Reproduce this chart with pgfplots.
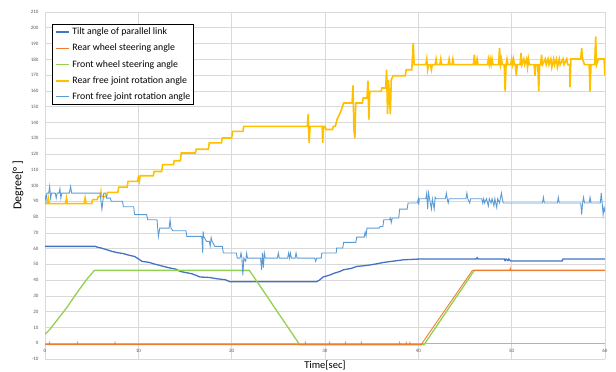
\documentclass[border=0pt]{standalone}
\usepackage{fontspec}
\setmainfont{Carlito}
\usepackage{pgfplots}
\pgfplotsset{compat=1.18}
\definecolor{tiltc}{HTML}{4472C4}
\definecolor{rearc}{HTML}{ED7D31}
\definecolor{frontc}{HTML}{92D050}
\definecolor{goldc}{HTML}{FFC000}
\definecolor{lbluec}{HTML}{5B9BD5}
\definecolor{gridc}{HTML}{D9D9D9}
\definecolor{tickc}{HTML}{595959}
\begin{document}
\begin{tikzpicture}
\useasboundingbox (0,0) rectangle (616pt,372pt);
\begin{axis}[
  at={(45pt,13pt)}, anchor=south west,
  scale only axis, width=560pt, height=347pt,
  xmin=0, xmax=60, ymin=-10, ymax=210,
  xtick={0,10,...,60}, ytick={-10,0,10,...,210},
  axis x line=middle, axis y line=left,
  x axis line style={-, draw=gray!60, line width=0.6pt},
  y axis line style={draw=none},
  hide obscured x ticks=false, hide obscured y ticks=false,
  major tick length=0pt,
  grid=major, grid style={draw=gridc, line width=0.6pt},
  /pgf/number format/assume math mode=true,
  ticklabel style={font=\fontsize{5}{6}\selectfont, text=tickc},
  x tick label style={yshift=-2pt},
  y tick label style={xshift=-3pt},
  xlabel={Time[sec]}, ylabel={Degree[°\,]},
  xlabel style={at={(rel axis cs:0.5,0)}, anchor=north, font=\fontsize{10.5}{12}\selectfont, inner sep=1pt, yshift=-1pt},
  ylabel style={at={(rel axis cs:-0.048,0.5)}, anchor=center, font=\fontsize{12}{13}\selectfont},
  legend style={at={(rel axis cs:0.0125,0.9654)}, anchor=north west, draw=black, line width=0.6pt, fill=white,
    font=\fontsize{9.8}{11}\selectfont, inner sep=3.3pt, row sep=7.2pt, column sep=2pt,
    nodes={inner sep=0pt, text height=7pt, text depth=2pt}},
  legend cell align=left,
  legend image code/.code={\draw[#1] (0pt,0pt) -- (13pt,0pt);},
]
\addlegendimage{tiltc, line width=1.4pt}
\addlegendentry{Tilt angle of parallel link}
\addlegendimage{rearc, line width=0.9pt}
\addlegendentry{Rear wheel steering angle}
\addlegendimage{frontc, line width=0.9pt}
\addlegendentry{Front wheel steering angle}
\addlegendimage{goldc, line width=1.8pt}
\addlegendentry{Rear free joint rotation angle}
\addlegendimage{lbluec, line width=0.9pt}
\addlegendentry{Front free joint rotation angle}

% Tilt angle
\addplot[forget plot, tiltc, line width=1.3pt] coordinates {
(0,61.4)(5.4,61.4)(5.6,60.9)(6.0,60.4)(6.6,59.3)(7.2,58.2)(7.7,57.5)(8.4,56.8)(9.0,55.8)(9.6,55.0)(10.0,53.5)(10.4,51.9)(11.2,51.2)(11.6,50.4)(12.2,49.5)(12.7,48.7)(13.3,47.8)(14.0,47.0)(14.5,45.5)(15.0,44.9)(15.7,44.1)(16.2,43.0)(16.6,42.0)(17.6,41.7)(18.5,40.8)(19.3,40.3)(19.8,39.0)(29.1,39.0)(29.4,40.0)(29.8,42.0)(30.5,43.2)(31.0,44.4)(31.6,45.5)(32.0,46.6)(32.8,47.4)(33.4,48.7)(34.0,49.0)(34.8,49.6)(35.5,50.3)(36.25,51.2)(37.0,51.8)(37.8,52.4)(38.4,52.9)(39.5,53.2)(40.2,53.4)(46.2,53.4)(46.3,54.2)(46.4,53.4)(49.2,53.4)(49.3,52.4)(49.4,53.4)(49.6,52.4)(49.7,53.4)(49.9,52.1)(55.4,52.1)(55.5,53.4)(60,53.4)
};
% Front wheel steering (green)
\addplot[forget plot, frontc, line width=1.3pt] coordinates {
(0,5.8)(0.5,8.6)(1.0,12.4)(1.6,17)(2.3,22.3)(3.4,31.8)(4.5,40.7)(5.3,46.2)(21.9,46.2)(27.3,-1.0)(40.6,-1.0)(46.0,46.2)(60,46.2)
};
% Rear wheel steering (orange)
\addplot[forget plot, rearc, line width=0.9pt] coordinates {
(0,-0.9)(0.45,-0.9)(0.5,0.3)(0.55,-0.9)(3.45,-0.9)(3.5,0.3)(3.55,-0.9)(7.45,-0.9)(7.5,0.3)(7.55,-0.9)(27.85,-0.9)(27.9,0.3)(27.95,-0.9)(30.45,-0.9)(30.5,0.3)(30.55,-0.9)(32.15,-0.9)(32.2,0.3)(32.25,-0.9)(33.85,-0.9)(33.9,0.3)(33.95,-0.9)(37.95,-0.9)(38.0,0.3)(38.05,-0.9)(38.65,-0.9)(38.7,0.3)(38.75,-0.9)(39.05,-0.9)(39.1,0.3)(39.15,-0.9)(40.3,-0.9)(45.8,46.2)(49.8,46.2)(49.85,47.5)(49.9,46.2)(60,46.2)
};
% Rear free joint (gold)
\addplot[forget plot, goldc, line width=1.6pt] coordinates {
(0,88.5)(0.25,88.5)(0.35,92)(0.45,88.5)(2.2,88.5)(2.3,92)(2.4,88.5)(4.2,88.5)(4.3,92)(4.4,88.5)(5.0,88.5)(5.1,91)(5.6,91)(5.7,93)(5.95,93)(6.0,95.5)(6.05,93)(6.6,93)(6.7,95.6)(7.8,95.6)(7.9,99)(8.8,99)(8.9,102.6)(9.9,102.6)(10.0,105)(10.1,102.6)(10.2,106.2)(11.6,106.2)(11.7,108.9)(12.5,108.9)(12.6,113.2)(13.75,113.2)(13.85,115.7)(14.5,115.7)(14.6,120.6)(16.1,120.6)(16.2,123)(17.5,123)(17.6,127)(18.9,127)(19.0,130.1)(20.0,130.1)(20.1,134.3)(21.2,134.3)(21.3,137.5)(28.1,137.5)(28.2,145.3)(28.3,127)(28.4,137.5)(29.7,137.5)(29.75,127)(29.85,137.5)(30.0,137.5)(30.1,135.5)(30.8,135.5)(30.9,137.5)(31.1,137.5)(31.3,142)(31.7,147)(32.0,152.3)(32.9,152.3)(33.0,163.4)(33.1,135)(33.2,130)(33.3,152.3)(34.0,152.3)(34.1,155.5)(34.5,155.5)(34.6,166.5)(34.7,141.7)(34.8,159.7)(36.0,159.7)(36.1,161.8)(36.5,161.8)(36.6,173.4)(36.7,145.3)(36.8,167)(37.0,145.3)(37.1,167)(37.3,169.6)(38.6,169.6)(38.7,173.4)(39.3,173.4)(39.45,190.4)(39.55,176.6)
(40.8,176.6)(40.9,180.2)(41.0,173.4)(41.1,176.6)(41.3,176.6)(41.4,173.4)(41.5,176.6)(41.8,176.6)(41.9,180.2)(42.0,176.6)(42.3,176.6)(42.4,180.2)(42.5,176.6)(43.2,176.6)(43.3,180.2)(43.4,176.6)(43.6,176.6)(43.7,180.2)(43.8,176.6)(45.9,176.6)(46.0,182.9)(46.1,176.6)(46.2,176.6)(46.3,180.2)(46.4,176.6)(47.4,176.6)(47.5,180.2)(47.6,176.6)(47.7,180.2)(47.8,176.6)(47.9,180.2)(48.0,176.6)(48.6,176.6)(48.7,187.2)(48.8,176.6)(48.9,180.2)(49.0,176.6)(49.2,176.6)(49.3,159.7)(49.4,176.6)(49.5,180.2)(49.6,176.6)(49.9,176.6)(50.0,180.2)(50.1,176.6)(50.2,180.2)(50.3,176.6)(50.4,176.6)(50.5,169.6)(50.6,176.6)(50.9,176.6)(51.0,184)(51.1,176.6)(51.3,180.2)(51.4,176.6)(51.6,180.2)(51.7,175)(51.8,180.2)(51.9,176.6)(52.4,176.6)(52.5,169.6)(52.6,176.6)(52.8,176.6)(52.9,159.7)(53.0,176.6)(53.1,176.6)(53.2,182.9)(53.3,176.6)(53.6,180.2)(53.7,176.6)(53.9,180.2)(54.0,176.6)(54.2,180.2)(54.3,175)(54.5,180.2)(54.6,176.6)(54.8,180.2)(54.9,175)(55.1,180.2)(55.2,176.6)(55.5,180.2)(55.6,176.6)(55.9,180.2)(56.0,176.6)(56.2,176.6)(56.25,162.4)(56.35,180.2)(57.4,180.2)(57.5,187.2)(57.6,180.2)(57.8,176.6)(58.3,176.6)(58.4,159.7)(58.5,176.6)(58.9,176.6)(59.0,194.6)(59.1,176.6)(59.3,180.2)(59.9,180.2)(60,169.6)
};
% Front free joint (light blue)
\addplot[forget plot, lbluec, line width=0.9pt] coordinates {
(0,94)(0.1,90)(0.2,95.2)(0.4,95.2)(0.5,99.4)(0.6,92)(0.7,95.2)(1.1,95.2)(1.2,92)(1.3,95.2)(1.5,95.2)(1.6,98)(1.7,92)(1.8,95.2)(2.6,95.2)(2.75,99.4)(2.85,95.2)(5.9,95.2)(6.1,85)(6.3,95.2)(6.5,95.2)(6.6,92)(7.0,92)(7.1,90)(8.3,90)(8.4,86.5)(9.5,86.5)(9.6,81.5)(10.9,81.5)(11.0,78.3)(12.0,78.3)(12.15,67.7)(12.3,73)(13.3,73)(13.4,78.3)(13.5,73)(13.7,71.3)(15.1,71.3)(15.2,67.7)(16.8,67.7)(16.9,57.2)(16.95,70.9)(17.0,67.7)(17.3,64.6)(17.6,64.6)(17.7,61.5)(17.8,67)(17.9,64.6)(18.2,61.4)(19.0,61.4)(19.1,57.2)(20.5,57.2)(20.6,54)(20.9,54)(21.0,57.2)(21.1,54)(21.2,43)(21.3,54)(21.5,52)(21.6,57)(21.7,54)(23.1,54)(23.2,46.6)(23.3,57.2)(23.4,48)(23.5,57.2)(23.6,54)(24.9,54)(25.0,57.2)(25.1,54)(26.0,54)(26.1,57.2)(26.2,54)(26.3,57.2)(26.4,54)(26.8,54)(26.9,57.2)(27.0,54)(28.9,54)(29.0,51.9)(29.1,54)(29.6,54)(29.65,57.2)(31.2,57.2)(31.25,60.4)(31.9,60.4)(32.0,63.9)(33.3,63.9)(33.4,67.3)(34.2,67.3)(34.3,70.5)(34.4,68)(34.5,73)(35.8,73)(35.9,74)(36.2,74)(36.3,78.3)(36.9,78.3)(37.0,79.4)(37.1,76.5)(37.2,79.4)(37.9,79.4)(38.0,85)(38.8,85)(38.9,88.9)(39.9,88.9)(40.0,91.6)(40.05,87.8)(40.1,91.6)
(40.8,91.6)(40.9,95.2)(41.0,85.1)(41.1,95.2)(41.2,91.6)(41.4,85.1)(41.5,91.6)(41.7,85.1)(41.8,92.5)(41.9,91.6)(42.9,91.6)(43.0,95.2)(43.1,91.6)(43.2,88.9)(43.3,91.6)(45.1,91.6)(45.2,95.2)(45.3,91.6)(45.5,88.9)(45.6,91.6)(46.8,91.6)(46.9,88.9)(47.0,91.6)(47.1,88.9)(47.3,91.6)(47.5,87)(47.6,91.6)(47.8,88.9)(47.9,91.6)(48.1,87)(48.2,91.6)(48.4,86)(48.5,91.6)(48.7,88.9)(48.9,95.2)(49.0,91.6)(49.1,88.9)(53.3,88.9)(53.4,92.5)(53.5,88.9)(54.9,88.9)(55.0,92.5)(55.1,88.9)(57.4,88.9)(57.5,81.5)(57.6,88.9)(57.7,92.5)(57.8,88.9)(58.3,88.9)(58.4,92.5)(58.5,88.9)(59.5,88.9)(59.6,95.2)(59.7,88.9)(59.8,81.5)(59.9,86)(60,83)
};
\end{axis}
\end{tikzpicture}
\end{document}
